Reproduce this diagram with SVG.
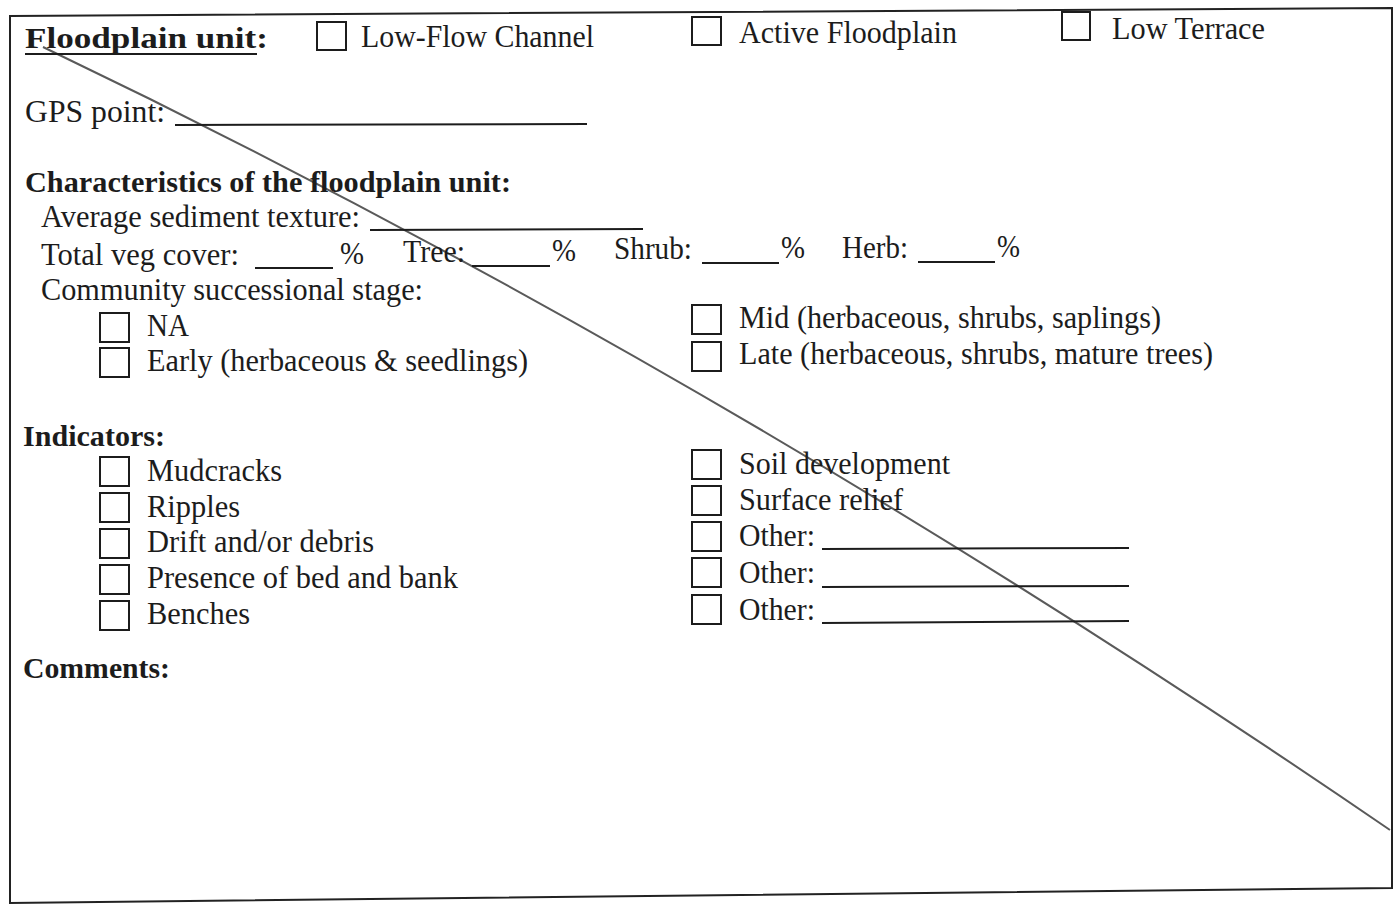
<svg xmlns="http://www.w3.org/2000/svg" width="1397" height="909" viewBox="0 0 1397 909">
<style>
  .t { font-family: "Liberation Serif", "Times New Roman", serif; font-size: 31px; fill: #1c1c1c; }
  .b { font-weight: bold; font-size: 30px; }
  .cb { fill: none; stroke: #1c1c1c; stroke-width: 2; }
  .ln { stroke: #1c1c1c; stroke-width: 2; fill: none; }
</style>
<rect width="1397" height="909" fill="#ffffff"/>
<g id="frame">
  <polygon points="10,16 1392,8 1392,888 10,903" fill="none" stroke="#222" stroke-width="2"/>
</g>
<g id="connectors">
  <path d="M43,47 Q716.5,369 1390,830" fill="none" stroke="#5a5a5a" stroke-width="2"/>
</g>
<g id="floodplain-unit">
  <text class="t b" x="25" y="48" textLength="243" lengthAdjust="spacingAndGlyphs">Floodplain unit:</text>
  <line class="ln" x1="25" y1="54" x2="257" y2="54" stroke-width="3"/>
</g>
<g id="low-flow-channel">
  <rect class="cb" x="317" y="22" width="29" height="28"/>
  <text class="t" x="361" y="47" textLength="233" lengthAdjust="spacingAndGlyphs">Low-Flow Channel</text>
</g>
<g id="active-floodplain">
  <rect class="cb" x="692" y="17" width="29" height="28"/>
  <text class="t" x="739" y="43" textLength="218" lengthAdjust="spacingAndGlyphs">Active Floodplain</text>
</g>
<g id="low-terrace">
  <rect class="cb" x="1062" y="12" width="28" height="28"/>
  <text class="t" x="1112" y="39" textLength="153" lengthAdjust="spacingAndGlyphs">Low Terrace</text>
</g>
<g id="gps-point">
  <text class="t" x="25" y="122" textLength="140" lengthAdjust="spacingAndGlyphs">GPS point:</text>
  <line class="ln" x1="175" y1="125" x2="587" y2="124"/>
</g>
<g id="characteristics">
  <text class="t b" x="25" y="192" textLength="486" lengthAdjust="spacingAndGlyphs">Characteristics of the floodplain unit:</text>
  <text class="t" x="41" y="227" textLength="319" lengthAdjust="spacingAndGlyphs">Average sediment texture:</text>
  <line class="ln" x1="370" y1="230" x2="643" y2="229"/>
  <text class="t" x="41" y="265" textLength="198" lengthAdjust="spacingAndGlyphs">Total veg cover:</text>
  <line class="ln" x1="255" y1="268" x2="333" y2="268"/>
  <text class="t" x="340" y="264" textLength="24" lengthAdjust="spacingAndGlyphs">%</text>
  <text class="t" x="403" y="262" textLength="62" lengthAdjust="spacingAndGlyphs">Tree:</text>
  <line class="ln" x1="472" y1="266" x2="550" y2="266"/>
  <text class="t" x="552" y="261" textLength="24" lengthAdjust="spacingAndGlyphs">%</text>
  <text class="t" x="614" y="259" textLength="78" lengthAdjust="spacingAndGlyphs">Shrub:</text>
  <line class="ln" x1="702" y1="263" x2="779" y2="263"/>
  <text class="t" x="781" y="258" textLength="24" lengthAdjust="spacingAndGlyphs">%</text>
  <text class="t" x="842" y="258" textLength="66" lengthAdjust="spacingAndGlyphs">Herb:</text>
  <line class="ln" x1="918" y1="262" x2="995" y2="262"/>
  <text class="t" x="997" y="257" textLength="23" lengthAdjust="spacingAndGlyphs">%</text>
  <text class="t" x="41" y="300" textLength="382" lengthAdjust="spacingAndGlyphs">Community successional stage:</text>
</g>
<g id="stage-na">
  <rect class="cb" x="100" y="313" width="29" height="29"/>
  <text class="t" x="147" y="336" textLength="42" lengthAdjust="spacingAndGlyphs">NA</text>
</g>
<g id="stage-early">
  <rect class="cb" x="100" y="348" width="29" height="29"/>
  <text class="t" x="147" y="371" textLength="381" lengthAdjust="spacingAndGlyphs">Early (herbaceous &amp; seedlings)</text>
</g>
<g id="stage-mid">
  <rect class="cb" x="692" y="305" width="29" height="29"/>
  <text class="t" x="739" y="328" textLength="422" lengthAdjust="spacingAndGlyphs">Mid (herbaceous, shrubs, saplings)</text>
</g>
<g id="stage-late">
  <rect class="cb" x="692" y="342" width="29" height="29"/>
  <text class="t" x="739" y="364" textLength="474" lengthAdjust="spacingAndGlyphs">Late (herbaceous, shrubs, mature trees)</text>
</g>
<g id="indicators">
  <text class="t b" x="23" y="446" textLength="142" lengthAdjust="spacingAndGlyphs">Indicators:</text>
</g>
<g id="ind-mudcracks">
  <rect class="cb" x="100" y="457" width="29" height="29"/>
  <text class="t" x="147" y="481" textLength="135" lengthAdjust="spacingAndGlyphs">Mudcracks</text>
</g>
<g id="ind-ripples">
  <rect class="cb" x="100" y="493" width="29" height="29"/>
  <text class="t" x="147" y="517" textLength="93" lengthAdjust="spacingAndGlyphs">Ripples</text>
</g>
<g id="ind-drift">
  <rect class="cb" x="100" y="529" width="29" height="29"/>
  <text class="t" x="147" y="552" textLength="227" lengthAdjust="spacingAndGlyphs">Drift and/or debris</text>
</g>
<g id="ind-bedbank">
  <rect class="cb" x="100" y="565" width="29" height="29"/>
  <text class="t" x="147" y="588" textLength="311" lengthAdjust="spacingAndGlyphs">Presence of bed and bank</text>
</g>
<g id="ind-benches">
  <rect class="cb" x="100" y="601" width="29" height="29"/>
  <text class="t" x="147" y="624" textLength="103" lengthAdjust="spacingAndGlyphs">Benches</text>
</g>
<g id="ind-soil">
  <rect class="cb" x="692" y="450" width="29" height="29"/>
  <text class="t" x="739" y="474" textLength="211" lengthAdjust="spacingAndGlyphs">Soil development</text>
</g>
<g id="ind-relief">
  <rect class="cb" x="692" y="486" width="29" height="29"/>
  <text class="t" x="739" y="510" textLength="164" lengthAdjust="spacingAndGlyphs">Surface relief</text>
</g>
<g id="ind-other1">
  <rect class="cb" x="692" y="522" width="29" height="29"/>
  <text class="t" x="739" y="546" textLength="76" lengthAdjust="spacingAndGlyphs">Other:</text>
  <line class="ln" x1="822" y1="549" x2="1129" y2="548"/>
</g>
<g id="ind-other2">
  <rect class="cb" x="692" y="558" width="29" height="29"/>
  <text class="t" x="739" y="583" textLength="76" lengthAdjust="spacingAndGlyphs">Other:</text>
  <line class="ln" x1="822" y1="587" x2="1129" y2="586"/>
</g>
<g id="ind-other3">
  <rect class="cb" x="692" y="595" width="29" height="29"/>
  <text class="t" x="739" y="620" textLength="76" lengthAdjust="spacingAndGlyphs">Other:</text>
  <line class="ln" x1="822" y1="623" x2="1129" y2="621"/>
</g>
<g id="comments">
  <text class="t b" x="23" y="678" textLength="147" lengthAdjust="spacingAndGlyphs">Comments:</text>
</g>
</svg>
